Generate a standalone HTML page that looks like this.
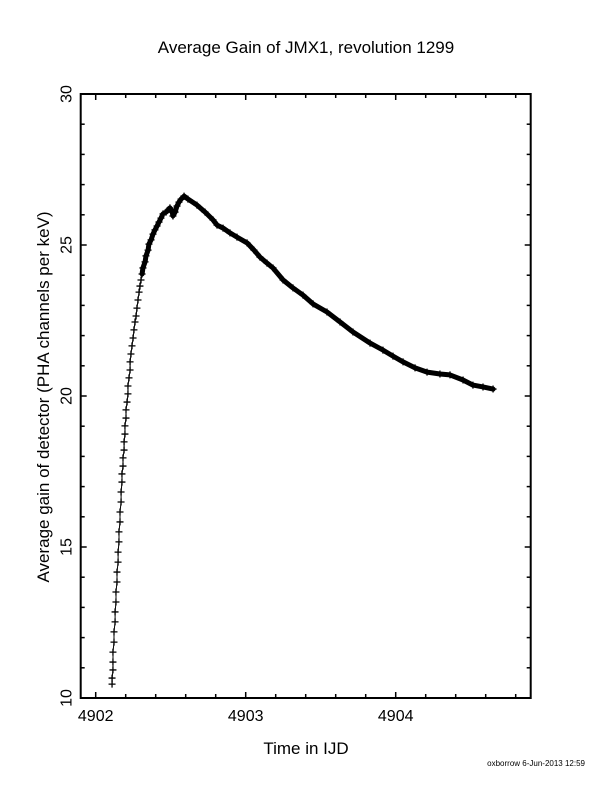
<!DOCTYPE html>
<html><head><meta charset="utf-8"><style>
html,body{margin:0;padding:0;background:#fff;}
svg{display:block;font-family:"Liberation Sans",sans-serif;}
</style></head><body>
<svg id="chart" width="612" height="792" viewBox="0 0 612 792">
<text x="306" y="53" text-anchor="middle" font-size="17">Average Gain of JMX1, revolution 1299</text>
<text transform="translate(49,397) rotate(-90)" text-anchor="middle" font-size="17">Average gain of detector (PHA channels per keV)</text>
<text x="306" y="754" text-anchor="middle" font-size="17">Time in IJD</text>
<text x="585" y="766" text-anchor="end" font-size="8">oxborrow  6-Jun-2013 12:59</text>
<g id="axes"></g>
<g id="series"></g>
</svg>
<script>
const xTicks=[4902,4903,4904];
const yTicks=[10,15,20,25,30];
const times=[4902.109,4902.109,4902.115,4902.115,4902.115,4902.122,4902.122,4902.129,4902.129,4902.135,4902.135,4902.142,4902.142,4902.149,4902.149,4902.155,4902.155,4902.162,4902.162,4902.169,4902.169,4902.175,4902.175,4902.182,4902.182,4902.189,4902.189,4902.195,4902.195,4902.202,4902.202,4902.209,4902.215,4902.215,4902.222,4902.229,4902.229,4902.235,4902.242,4902.249,4902.255,4902.262,4902.269,4902.275,4902.282,4902.289,4902.295,4902.302,4902.309,4902.315,4902.329,4902.335,4902.349,4902.355,4902.369,4902.382,4902.395,4902.409,4902.422,4902.435,4902.449,4902.469,4902.482,4902.495,4902.509,4902.515,4902.529,4902.542,4902.555,4902.569,4902.589,4902.615,4902.675,4902.729,4902.782,4902.809,4902.849,4902.895,4902.942,4903.009,4903.055,4903.095,4903.142,4903.182,4903.249,4903.315,4903.382,4903.449,4903.542,4903.629,4903.715,4903.829,4903.915,4903.982,4904.049,4904.129,4904.209,4904.295,4904.362,4904.449,4904.515,4904.582,4904.649];
const gains=[10.46,10.66,10.93,11.19,11.52,11.85,12.19,12.52,12.85,13.18,13.51,13.84,14.17,14.50,14.83,15.17,15.50,15.83,16.16,16.49,16.82,17.15,17.42,17.68,17.95,18.21,18.48,18.74,19.01,19.27,19.54,19.80,20.07,20.33,20.60,20.86,21.13,21.39,21.66,21.92,22.19,22.45,22.65,22.91,23.18,23.44,23.64,23.84,24.04,24.24,24.44,24.64,24.83,25.03,25.17,25.36,25.50,25.63,25.76,25.89,26.03,26.09,26.16,26.23,26.09,25.96,26.09,26.29,26.42,26.52,26.62,26.52,26.32,26.09,25.83,25.66,25.56,25.40,25.26,25.07,24.83,24.60,24.40,24.24,23.84,23.58,23.34,23.05,22.78,22.45,22.12,21.75,21.52,21.32,21.13,20.93,20.79,20.73,20.70,20.53,20.36,20.30,20.23];
const X0=80.7,X1=530.7,Y0=94,Y1=698;
const xMin=4901.9,xMax=4904.9,yMin=10,yMax=30;
const sx=t=>X0+(t-xMin)/(xMax-xMin)*(X1-X0);
const sy=g=>Y1-(g-yMin)/(yMax-yMin)*(Y1-Y0);
const NS='http://www.w3.org/2000/svg';
const axes=document.getElementById('axes'),series=document.getElementById('series');
function mk(tag,attrs,parent){const e=document.createElementNS(NS,tag);for(const k in attrs)e.setAttribute(k,attrs[k]);parent.appendChild(e);return e;}
const frame=mk('rect',{x:X0,y:Y0,width:X1-X0,height:Y1-Y0,fill:'none',stroke:'#000','stroke-width':2},axes);


// minor ticks
for(let t=4902;t<=4904.81;t+=0.2){const x=sx(t);const major=Math.abs(t-Math.round(t))<1e-6;const L=major?6:4;
 const a=mk('line',{x1:x,y1:Y1,x2:x,y2:Y1-L,stroke:'#000','stroke-width':1.5},axes);
 
 
 const b=mk('line',{x1:x,y1:Y0,x2:x,y2:Y0+L,stroke:'#000','stroke-width':1.5},axes);
 
 }
for(let g=11;g<30;g++){const y=sy(g);const L=(g%5===0)?6:4;
 const a=mk('line',{x1:X0,y1:y,x2:X0+L,y2:y,stroke:'#000','stroke-width':1.5},axes);
 
 
 const b=mk('line',{x1:X1,y1:y,x2:X1-L,y2:y,stroke:'#000','stroke-width':1.5},axes);
 
 }
xTicks.forEach(t=>{const e=mk('text',{x:sx(t),y:Y1+23,'text-anchor':'middle','font-size':16},axes);e.textContent=String(t);
 
 });
yTicks.forEach(g=>{const e=mk('text',{transform:`translate(${X0-9},${sy(g)}) rotate(-90)`,'text-anchor':'middle','font-size':16},axes);e.textContent=String(g);
 
 });
// dense band after the rise
let pts=[];for(let i=0;i<times.length;i++){if(gains[i]>=24.0||times[i]>4902.6)pts.push(sx(times[i]).toFixed(1)+','+sy(gains[i]).toFixed(1));}
const band=mk('polyline',{points:pts.join(' '),fill:'none',stroke:'#000','stroke-width':5,'stroke-linejoin':'round','stroke-linecap':'round'},series);


const thin=mk('polyline',{points:times.map((t,i)=>sx(t).toFixed(1)+','+sy(gains[i]).toFixed(1)).join(' '),fill:'none',stroke:'#000','stroke-width':1},series);


times.forEach((t,i)=>{const x=sx(t),y=sy(gains[i]);
 const p=mk('path',{d:`M${x-3.5},${y}H${x+3.5}M${x},${y-3.5}V${y+3.5}`,stroke:'#000','stroke-width':1.3,fill:'none'},series);
 
 });
</script>
</body></html>
